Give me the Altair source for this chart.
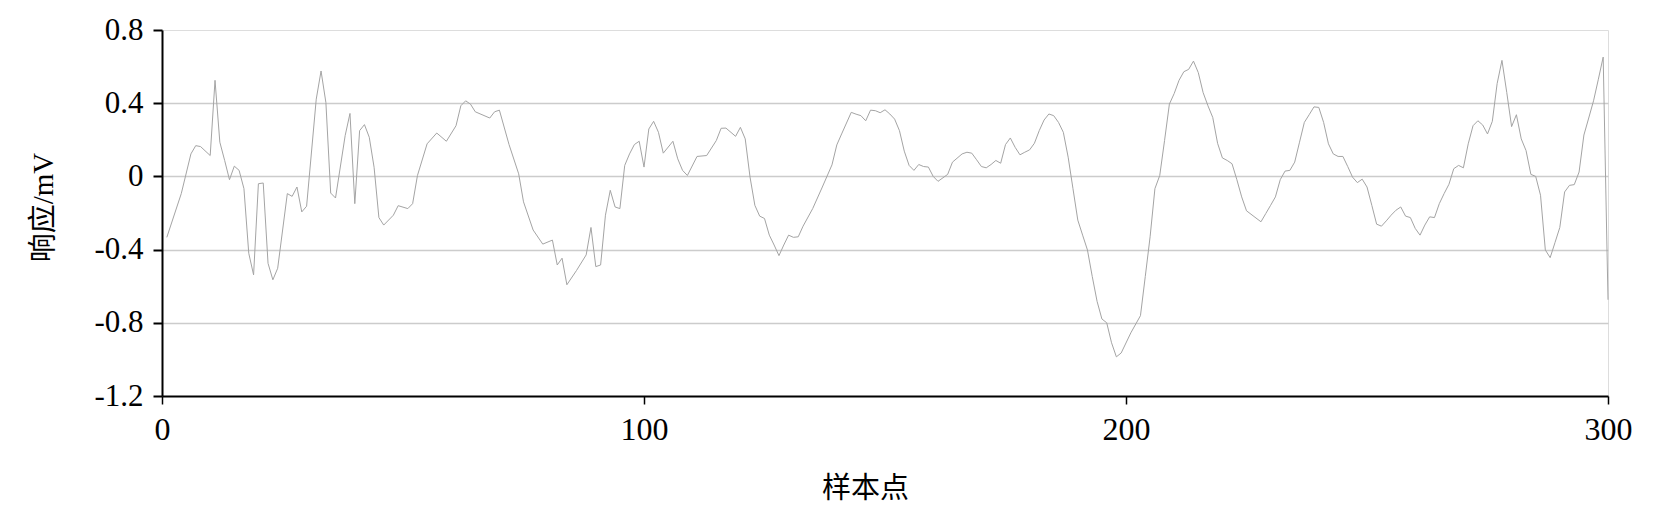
import altair as alt
import pandas as pd

# sample index (样本点)
sample_x = [1, 4, 6, 7, 8, 10, 11, 12, 13, 14, 15, 16, 17, 18, 19, 20, 21, 22, 23, 24,
            26, 27, 28, 29, 30, 32, 33, 34, 35, 36, 38, 39, 40, 41, 42, 43, 44, 45, 46, 48,
            49, 51, 52, 53, 55, 57, 59, 61, 62, 63, 64, 65, 68, 69, 70, 72, 74, 75, 77, 79,
            81, 82, 83, 84, 86, 88, 89, 90, 91, 92, 93, 94, 95, 96, 97, 98, 99, 100,
            101, 102, 103, 104, 106, 107, 108, 109, 111, 113, 115, 116, 117, 119, 120, 121,
            122, 123, 124, 125, 126, 127, 128, 129, 130, 131, 132, 133, 135, 137, 139, 140,
            141, 143, 144, 145, 146, 147, 148, 149, 150, 151, 152, 153, 154, 155, 156, 157,
            158, 159, 160, 161, 163, 164, 166, 167, 168, 169, 170, 171, 172, 173, 174, 175,
            176, 177, 178, 179, 180, 181, 182, 183, 184, 185, 186, 187, 188, 189, 190, 191,
            192, 193, 194, 195, 196, 197, 198, 199, 201, 203, 204, 205, 206, 207, 208, 209,
            210, 211, 212, 213, 214, 215, 216, 217, 218, 219, 220, 221, 222, 223, 224, 225,
            228, 229, 230, 231, 232, 233, 234, 235, 236, 237, 238, 239, 240, 241, 242, 243,
            244, 245, 246, 247, 248, 249, 250, 251, 252, 253, 254, 255, 256, 257, 258, 259,
            260, 261, 262, 263, 264, 265, 266, 267, 268, 269, 270, 271, 272, 273, 274, 275,
            276, 277, 278, 279, 280, 281, 282, 283, 284, 285, 286, 287, 288, 289, 290, 291,
            292, 293, 294, 295, 296, 297, 298, 299, 300]

# response (响应/mV)
response_mv = [-0.333, -0.094, 0.123, 0.168, 0.163, 0.114, 0.525, 0.187, 0.087, -0.018,
               0.056, 0.033, -0.067, -0.42, -0.538, -0.04, -0.036, -0.475, -0.565, -0.502,
               -0.094, -0.109, -0.058, -0.194, -0.163, 0.422, 0.576, 0.404, -0.091, -0.118,
               0.223, 0.344, -0.149, 0.25, 0.283, 0.214, 0.05, -0.225, -0.266, -0.212,
               -0.16, -0.176, -0.149, 0.005, 0.178, 0.237, 0.192, 0.277, 0.386, 0.413,
               0.395, 0.353, 0.319, 0.353, 0.362, 0.174, 0.014, -0.139, -0.293, -0.37,
               -0.348, -0.484, -0.447, -0.592, -0.514, -0.429, -0.279, -0.493, -0.484, -0.212,
               -0.076, -0.167, -0.176, 0.06, 0.123, 0.174, 0.192, 0.051,
               0.259, 0.301, 0.241, 0.127, 0.192, 0.096, 0.033, 0.005, 0.109, 0.114,
               0.196, 0.263, 0.264, 0.219, 0.268, 0.205,
               -0.004, -0.158, -0.217, -0.23, -0.321, -0.375, -0.433, -0.375, -0.321, -0.333,
               -0.33, -0.272, -0.176, -0.058, 0.063, 0.172,
               0.232, 0.35, 0.34, 0.332, 0.304, 0.362, 0.359, 0.348, 0.364, 0.341,
               0.313, 0.25, 0.138, 0.06, 0.033, 0.065,
               0.054, 0.051, 0.0, -0.027, 0.011, 0.078, 0.123, 0.132, 0.127, 0.091,
               0.054, 0.047, 0.065, 0.087, 0.072, 0.174,
               0.21, 0.159, 0.118, 0.132, 0.145, 0.181, 0.25, 0.308, 0.341, 0.332,
               0.295, 0.241, 0.105, -0.067, -0.239, -0.321,
               -0.402, -0.547, -0.683, -0.779, -0.8, -0.909, -0.986, -0.965, -0.855, -0.761,
               -0.547, -0.33, -0.067, 0.005, 0.196, 0.395,
               0.453, 0.525, 0.572, 0.585, 0.63, 0.567, 0.458, 0.386, 0.322, 0.181,
               0.101, 0.087, 0.069, -0.018, -0.112, -0.188,
               -0.248, -0.203, -0.158, -0.112, -0.018, 0.029, 0.033, 0.078, 0.187, 0.295,
               0.337, 0.38, 0.377, 0.295, 0.178, 0.123,
               0.109, 0.109, 0.054, -0.004, -0.034, -0.015, -0.058, -0.158, -0.261, -0.272,
               -0.243, -0.212, -0.185, -0.167, -0.217, -0.225,
               -0.284, -0.321, -0.266, -0.221, -0.225, -0.149, -0.094, -0.043, 0.042, 0.06,
               0.047, 0.178, 0.277, 0.304, 0.281, 0.232,
               0.301, 0.507, 0.634, 0.458, 0.272, 0.337, 0.205, 0.141, 0.011, 0.0,
               -0.103, -0.402, -0.444, -0.362, -0.279, -0.085,
               -0.049, -0.045, 0.024, 0.226, 0.319, 0.413, 0.531, 0.652, -0.674]

x_ticks = [0, 100, 200, 300]
y_ticks = [-1.2, -0.8, -0.4, 0, 0.4, 0.8]

df = pd.DataFrame({"x": sample_x, "y": response_mv})

serif = "Liberation Serif, Noto Sans CJK SC"

chart = (
    alt.Chart(df)
    .mark_line(color="#a4a4a4", strokeWidth=1)
    .encode(
        x=alt.X(
            "x:Q",
            scale=alt.Scale(domain=[0, 300], nice=False, zero=False),
            axis=alt.Axis(
                values=x_ticks,
                format="d",
                grid=False,
                title="样本点",
                titleFont="Noto Sans CJK SC",
                titleFontSize=29,
                titleFontWeight="normal",
                titleColor="black",
                titleX=703,
                titleY=92,
                titleAlign="center",
                titleBaseline="middle",
                labelFont=serif,
                labelFontSize=32,
                labelColor="black",
                labelPadding=10,
                domainColor="black",
                domainWidth=2,
                tickColor="black",
                tickWidth=1.5,
                tickSize=8,
                labelFlush=False,
            ),
        ),
        y=alt.Y(
            "y:Q",
            scale=alt.Scale(domain=[-1.2, 0.8], nice=False, zero=False),
            axis=alt.Axis(
                values=y_ticks,
                grid=True,
                gridColor="#cccccc",
                gridWidth=1.5,
                gridOpacity={
                    "condition": {"test": "datum.value > 0.7 || datum.value < -1.1", "value": 0},
                    "value": 1,
                },
                labelExpr="datum.value == 0 ? '0' : (datum.value < 0 ? '-' : '') + format(abs(datum.value), '.1f')",
                title="响应/mV",
                titleFont=serif,
                titleFontSize=29,
                titleFontWeight="normal",
                titleColor="black",
                titleAngle=270,
                titleX=-119,
                titleY=177,
                titleAlign="center",
                titleBaseline="middle",
                labelFont=serif,
                labelFontSize=31,
                labelColor="black",
                labelPadding=10,
                domainColor="black",
                domainWidth=2,
                tickColor="black",
                tickWidth=2,
                tickSize=9,
                labelFlush=False,
            ),
        ),
    )
    .properties(
        width=1446,
        height=366,
        autosize=alt.AutoSizeParams(type="none"),
        padding={"left": 154, "top": 22, "right": 30, "bottom": 115},
    )
    .configure_view(stroke="black", strokeWidth=2)
    .configure(background="white")
)

chart.save("out.html", embed_options={"renderer": "svg", "actions": False})
